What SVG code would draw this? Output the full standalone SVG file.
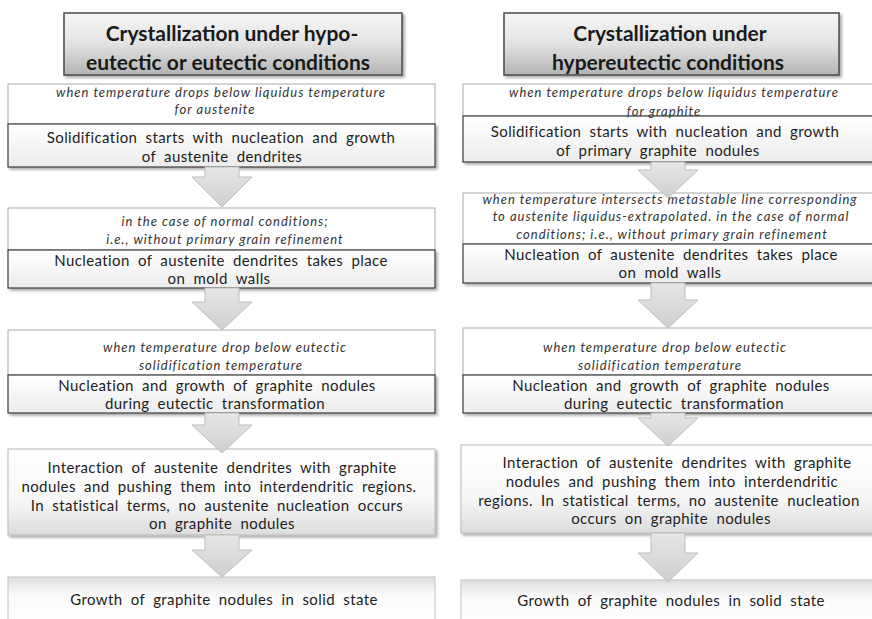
<svg xmlns="http://www.w3.org/2000/svg" width="872" height="619" viewBox="0 0 872 619">
<defs>
<linearGradient id="gHead" x1="0" y1="0" x2="0" y2="1">
<stop offset="0" stop-color="#f7f7f7"/><stop offset="0.5" stop-color="#e2e2e2"/><stop offset="1" stop-color="#b4b4b4"/>
</linearGradient>
<linearGradient id="gMain" x1="0" y1="0" x2="0" y2="1">
<stop offset="0" stop-color="#ffffff"/><stop offset="1" stop-color="#ececec"/>
</linearGradient>
<linearGradient id="gSoft" x1="0" y1="0" x2="0" y2="1">
<stop offset="0" stop-color="#ffffff"/><stop offset="0.6" stop-color="#f7f7f7"/><stop offset="1" stop-color="#dcdcdc"/>
</linearGradient>
<linearGradient id="gLast" x1="0" y1="0" x2="0" y2="1">
<stop offset="0" stop-color="#dedede"/><stop offset="0.35" stop-color="#fafafa"/><stop offset="1" stop-color="#ffffff"/>
</linearGradient>
<linearGradient id="gArrow" x1="0" y1="0" x2="0" y2="1">
<stop offset="0" stop-color="#e6e6e6"/><stop offset="1" stop-color="#cfcfcf"/>
</linearGradient>
<filter id="sh" x="-5%" y="-10%" width="115%" height="130%">
<feDropShadow dx="2" dy="2" stdDeviation="1.5" flood-color="#000" flood-opacity="0.35"/>
</filter>
</defs>
<style>
.hd{fill:url(#gHead);stroke:#4a4a4a;stroke-width:1.5}
.it{fill:#ffffff;stroke:#aaaaaa;stroke-width:1}
.mn{fill:url(#gMain);stroke:#3c3c3c;stroke-width:1.2}
.sf{fill:url(#gSoft);stroke:#b8b8b8;stroke-width:1}
.ls{fill:url(#gLast);stroke:#c4c4c4;stroke-width:1}
.ar{fill:url(#gArrow);stroke:#bdbdbd;stroke-width:1}
text{text-anchor:middle;font-family:Lato,"Open Sans","Liberation Sans",sans-serif}
.ht{font-size:21px;font-weight:bold;fill:#1a1a1a}
.ti{font-size:13px;font-style:italic;fill:#333333;letter-spacing:1px}
.tm{font-size:15px;fill:#1e1e1e;letter-spacing:0.4px;word-spacing:4px}
</style>

<g id="head-left">
<rect class="hd" x="64" y="13" width="338" height="62" filter="url(#sh)"/>
<text class="ht" x="232" y="41">Crystallization under hypo-</text>
<text class="ht" x="228" y="70">eutectic or eutectic  conditions</text>
</g>
<g id="head-right">
<rect class="hd" x="504" y="13" width="335" height="62" filter="url(#sh)"/>
<text class="ht" x="670" y="41">Crystallization under</text>
<text class="ht" x="668" y="70">hypereutectic  conditions</text>
</g>

<g id="left-1">
<rect class="it" x="8" y="84" width="427" height="40"/>
<rect class="mn" x="8" y="124" width="427" height="43" filter="url(#sh)"/>
<text class="ti" x="221" y="97">when temperature drops below liquidus temperature</text>
<text class="ti" x="215" y="114">for austenite</text>
<text class="tm" x="221" y="143">Solidification starts with nucleation and growth</text>
<text class="tm" x="222" y="162">of austenite dendrites</text>
</g>
<g id="left-2">
<rect class="it" x="8" y="208" width="427" height="42"/>
<rect class="mn" x="8" y="250" width="427" height="38" filter="url(#sh)"/>
<text class="ti" x="225" y="226">in the case of normal conditions;</text>
<text class="ti" x="225" y="244">i.e., without primary grain refinement</text>
<text class="tm" x="221" y="266">Nucleation of austenite dendrites takes place</text>
<text class="tm" x="219" y="284">on mold walls</text>
</g>
<g id="left-3">
<rect class="it" x="8" y="330" width="427" height="45"/>
<rect class="mn" x="8" y="375" width="427" height="38" filter="url(#sh)"/>
<text class="ti" x="225" y="352">when temperature drop below eutectic</text>
<text class="ti" x="221" y="370">solidification temperature</text>
<text class="tm" x="217" y="391">Nucleation and growth of graphite nodules</text>
<text class="tm" x="215" y="409">during eutectic transformation</text>
</g>
<g id="left-4">
<rect class="sf" x="8" y="449" width="427" height="86" filter="url(#sh)"/>
<text class="tm" x="222" y="473">Interaction of austenite dendrites with graphite</text>
<text class="tm" x="219" y="492">nodules and pushing them into interdendritic regions.</text>
<text class="tm" x="217" y="511">In statistical terms, no austenite nucleation occurs</text>
<text class="tm" x="222" y="529">on graphite nodules</text>
</g>
<g id="left-5">
<rect class="ls" x="8" y="577" width="427" height="50"/>
<text class="tm" x="224" y="605">Growth of graphite nodules in solid state</text>
</g>

<g id="right-1">
<rect class="it" x="463" y="84" width="420" height="32"/>
<rect class="mn" x="463" y="116" width="420" height="46" filter="url(#sh)"/>
<text class="ti" x="674" y="97">when temperature drops below liquidus temperature</text>
<text class="ti" x="664" y="116">for graphite</text>
<text class="tm" x="665" y="137">Solidification starts with nucleation and growth</text>
<text class="tm" x="658" y="156">of primary graphite nodules</text>
</g>
<g id="right-2">
<rect class="it" x="463" y="193" width="420" height="51"/>
<rect class="mn" x="463" y="244" width="420" height="39" filter="url(#sh)"/>
<text class="ti" x="670" y="204">when temperature intersects metastable line corresponding</text>
<text class="ti" x="671" y="221">to austenite liquidus-extrapolated. in the case of normal</text>
<text class="ti" x="672" y="239">conditions; i.e., without primary grain refinement</text>
<text class="tm" x="671" y="260">Nucleation of austenite dendrites takes place</text>
<text class="tm" x="670" y="278">on mold walls</text>
</g>
<g id="right-3">
<rect class="it" x="463" y="328" width="420" height="47"/>
<rect class="mn" x="463" y="375" width="420" height="38" filter="url(#sh)"/>
<text class="ti" x="665" y="352">when temperature drop below eutectic</text>
<text class="ti" x="660" y="370">solidification temperature</text>
<text class="tm" x="671" y="391">Nucleation and growth of graphite nodules</text>
<text class="tm" x="674" y="409">during eutectic transformation</text>
</g>
<g id="right-4">
<rect class="sf" x="461" y="445" width="422" height="88" filter="url(#sh)"/>
<text class="tm" x="677" y="468">Interaction of austenite dendrites with graphite</text>
<text class="tm" x="672" y="487">nodules and pushing them into interdendritic</text>
<text class="tm" x="669" y="506">regions. In statistical terms, no austenite nucleation</text>
<text class="tm" x="671" y="524">occurs on graphite nodules</text>
</g>
<g id="right-5">
<rect class="ls" x="461" y="580" width="422" height="50"/>
<text class="tm" x="671" y="606">Growth of graphite nodules in solid state</text>
</g>

<g id="connectors">
<path class="ar" d="M205,167 L239,167 L239,177 L252,177 L222,207 L192,177 L205,177 Z"/>
<path class="ar" d="M205,288 L239,288 L239,302 L252,302 L222,330 L192,302 L205,302 Z"/>
<path class="ar" d="M205,413 L239,413 L239,425 L252,425 L222,453 L192,425 L205,425 Z"/>
<path class="ar" d="M205,535 L239,535 L239,550 L252,550 L222,577 L192,550 L205,550 Z"/>
<path class="ar" d="M651,162 L685,162 L685,170 L698,170 L668,198 L638,170 L651,170 Z"/>
<path class="ar" d="M651,283 L685,283 L685,300 L698,300 L668,328 L638,300 L651,300 Z"/>
<path class="ar" d="M651,413 L685,413 L685,418 L698,418 L668,446 L638,418 L651,418 Z"/>
<path class="ar" d="M651,533 L685,533 L685,553 L698,553 L668,582 L638,553 L651,553 Z"/>
</g>
</svg>
